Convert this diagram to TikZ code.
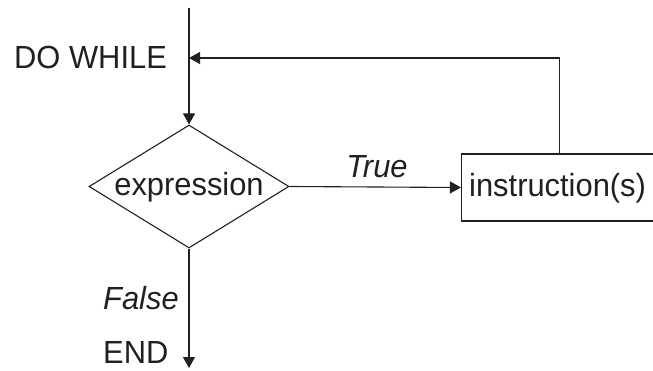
\documentclass[tikz,border=0pt]{standalone}
\usepackage{fontspec}
\setmainfont[FakeStretch=0.965]{Liberation Sans}
\usetikzlibrary{arrows.meta,shapes.geometric}
\definecolor{ink}{HTML}{231F20}
\begin{document}
\begin{tikzpicture}[x=1pt,y=-1pt,
  every node/.style={text=ink,font=\fontsize{32}{38}\selectfont},
  conn/.style={draw=ink,line width=1.1pt},
  arr/.style={conn,-{Triangle[length=11pt,width=12pt]}},
  decision/.style={diamond,draw=ink,line width=1.1pt,inner sep=0pt,shape aspect=1.626,minimum width=200pt,minimum height=123pt,text height=23pt,text depth=4pt},
  procbox/.style={rectangle,draw=ink,line width=1.1pt,minimum width=196pt,minimum height=67pt,inner sep=0pt},
  lbl/.style={inner sep=0pt}]
\useasboundingbox (0,0) rectangle (653,371);
\node[decision] (d) at (189,186.5) {expression};
\node[procbox] (b) at (559.5,187.5) {};
\node[lbl,anchor=base west] (btext) at (469,197) {instruction(s)};
\node[lbl,anchor=base west] (dw) at (14,69) {DO WHILE};
\node[lbl,anchor=base west] (fl) at (103,309) {\itshape False};
\node[lbl,anchor=base west] (en) at (103,363.5) {END};
\coordinate (top) at (189,8);
\coordinate (join) at (189,58);
\coordinate (endpt) at (189,368);
\draw[arr] (top) -- (d.north);
\draw[arr] (b.north) |- (join);
\draw[arr] (d.east) -- (b.west);
\node[lbl,anchor=base] (tr) at (377,178) {\itshape True};
\draw[arr] (d.south) -- (endpt);
\end{tikzpicture}
\end{document}
